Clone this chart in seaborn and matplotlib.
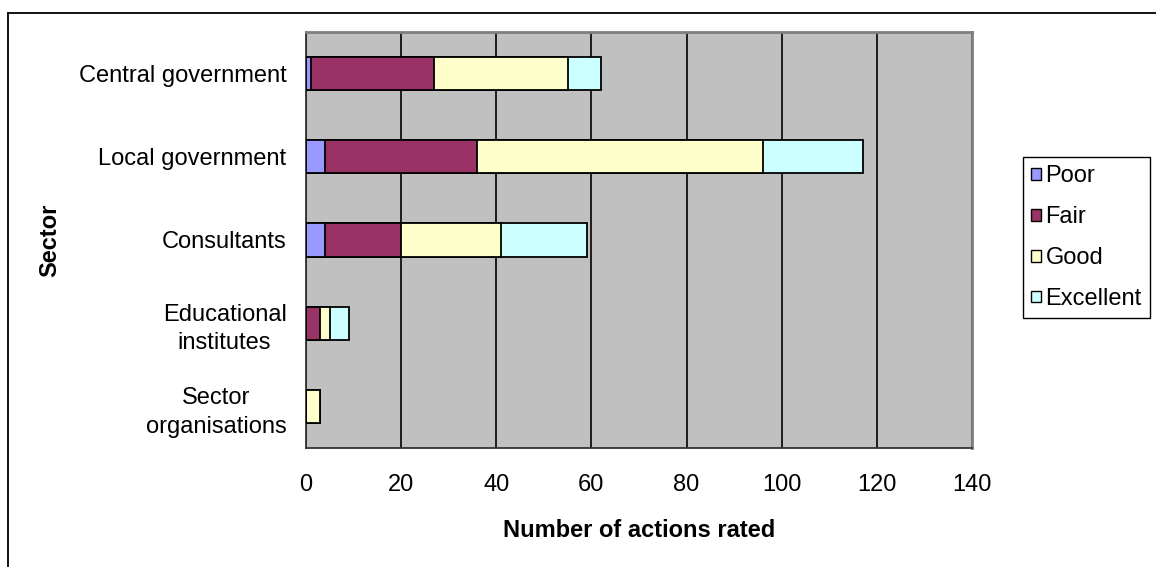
import matplotlib
matplotlib.use("Agg")
import matplotlib.pyplot as plt
from matplotlib.patches import Patch
from matplotlib.lines import Line2D
import numpy as np
import pandas as pd
import seaborn as sns

# Ratings of actions by sector
sectors = ["Central government", "Local government", "Consultants",
           "Educational\ninstitutes", "Sector\norganisations"]
ratings = ["Poor", "Fair", "Good", "Excellent"]
poor = [1, 4, 4, 0, 0]
fair = [26, 32, 16, 3, 0]
good = [28, 60, 21, 2, 3]
excellent = [7, 21, 18, 4, 0]
x_ticks = [0, 20, 40, 60, 80, 100, 120, 140]

colors = {"Poor": "#9999FF", "Fair": "#993366",
          "Good": "#FFFFCC", "Excellent": "#CCFFFF"}

sns.set_style("white")
plt.rcParams["font.family"] = ["Liberation Sans", "DejaVu Sans"]
plt.rcParams.update({"text.color": "black", "axes.labelcolor": "black",
                     "xtick.color": "black", "ytick.color": "black"})

df = pd.DataFrame({"Sector": sectors, "Poor": poor, "Fair": fair,
                   "Good": good, "Excellent": excellent})
# cumulative ends of each stacked segment
cum = df[ratings].cumsum(axis=1)
cum["Sector"] = df["Sector"]

fig = plt.figure(figsize=(11.56, 5.67), dpi=100)
W, H = 1156, 567
ax = fig.add_axes([306 / W, 1 - 448 / H, (972 - 306) / W, (448 - 32) / H])
ax.set_facecolor("#C0C0C0")

# draw from the longest cumulative bar to the shortest so segments stack
for r in reversed(ratings):
    sns.barplot(data=cum, x=r, y="Sector", order=sectors, orient="h",
                color=colors[r], saturation=1, width=0.4, errorbar=None,
                edgecolor="black", linewidth=1.3, ax=ax, zorder=3)

ax.set_xlim(0, 140)
ax.set_ylim(4.5, -0.5)
ax.set_xticks(x_ticks)
ax.set_xticklabels([str(t) for t in x_ticks], fontsize=17)
ax.tick_params(axis="x", direction="out", length=6, width=1, color="#333333",
               pad=13)

# category boundaries carry tick marks, centers carry the labels
ax.set_yticks(np.arange(-0.5, 5, 1.0))
ax.set_yticklabels([])
ax.tick_params(axis="y", which="major", direction="out", length=6, width=1,
               color="#333333")
ax.set_yticks(np.arange(len(sectors)), minor=True)
ax.set_yticklabels(sectors, minor=True, fontsize=17, ha="right",
                   multialignment="center", linespacing=1.4)
ax.tick_params(axis="y", which="minor", length=0, pad=14)

ax.xaxis.grid(True, color="black", linewidth=1.2)
ax.yaxis.grid(False)
ax.set_axisbelow(True)

for side in ["top", "right"]:
    ax.spines[side].set_color("#808080")
    ax.spines[side].set_linewidth(2)
for side in ["left", "bottom"]:
    ax.spines[side].set_color("#333333")
    ax.spines[side].set_linewidth(1.3)
    ax.spines[side].set_visible(True)

ax.set_xlabel("Number of actions rated", fontsize=17, fontweight="bold")
ax.xaxis.set_label_coords(0.5, -0.17)
ax.set_ylabel("Sector", fontsize=17, fontweight="bold")
ax.yaxis.set_label_coords(-0.368, 0.5)

handles = [Patch(facecolor=colors[r], edgecolor="black", linewidth=1)
           for r in ratings]
leg = fig.legend(handles, ratings, loc="upper right",
                 bbox_to_anchor=(1150 / W, 1 - 157 / H),
                 bbox_transform=fig.transFigure, borderaxespad=0,
                 fontsize=17, handlelength=0.4, handleheight=0.4,
                 handletextpad=0.2, labelspacing=0.8, borderpad=0.35,
                 fancybox=False, shadow=False, framealpha=1,
                 edgecolor="black")
leg.get_frame().set_linewidth(1)

# chart area border (top and left edges)
fig.add_artist(Line2D([8 / W, 8 / W], [0, 1 - 12.5 / H],
                      transform=fig.transFigure, color="black", lw=1.3))
fig.add_artist(Line2D([8 / W, 1], [1 - 12.5 / H, 1 - 12.5 / H],
                      transform=fig.transFigure, color="black", lw=1.3))

fig.savefig("out.png", dpi=100, facecolor="white")
